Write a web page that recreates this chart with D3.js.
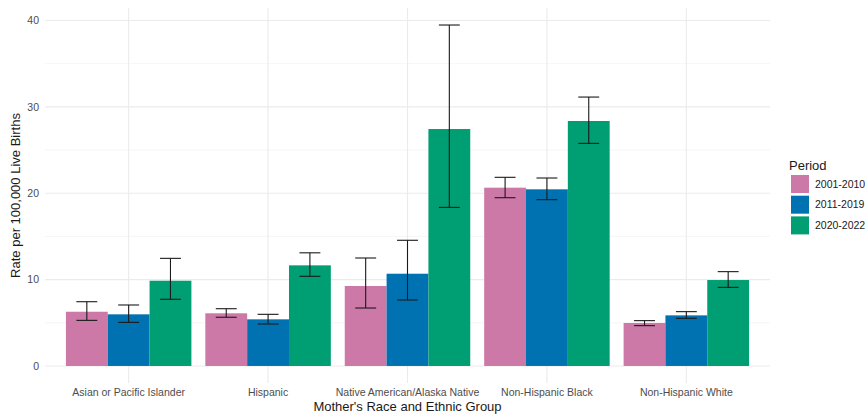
<!DOCTYPE html>
<html><head><meta charset="utf-8">
<script src="https://cdn.jsdelivr.net/npm/d3@7/dist/d3.min.js"></script>
<style>body{margin:0;background:#fff;font-family:"Liberation Sans",Arial,sans-serif}</style>
</head><body><svg id="c" width="867" height="414"></svg>
<script>
const categories = ["Asian or Pacific Islander","Hispanic","Native American/Alaska Native","Non-Hispanic Black","Non-Hispanic White"];
const periods = ["2001-2010","2011-2019","2020-2022"];
const colors = ["#CC79A7","#0072B2","#009E73"];
const rate2001 = [6.28, 6.10, 9.26, 20.64, 4.98];
const low2001  = [5.28, 5.64, 6.71, 19.48, 4.67];
const high2001 = [7.44, 6.63, 12.50, 21.84, 5.25];
const rate2011 = [5.98, 5.40, 10.68, 20.45, 5.86];
const low2011  = [5.05, 4.86, 7.64, 19.25, 5.52];
const high2011 = [7.06, 5.98, 14.55, 21.76, 6.29];
const rate2020 = [9.87, 11.65, 27.43, 28.36, 9.95];
const low2020  = [7.72, 10.38, 18.36, 25.77, 9.10];
const high2020 = [12.46, 13.10, 39.47, 31.13, 10.92];
const yTicks = [0,10,20,30,40];
const yMinor = [5,15,25,35];

const rates=[rate2001,rate2011,rate2020], lows=[low2001,low2011,low2020], highs=[high2001,high2011,high2020];
const data=[];
categories.forEach((c,i)=>periods.forEach((p,j)=>data.push({c,p,j,v:rates[j][i],lo:lows[j][i],hi:highs[j][i]})));

const svg=d3.select("#c");
const L=45,R=770,T=8,B=383;
const x=d3.scaleBand().domain(categories).range([L,R]).paddingOuter(0.1/1.0).paddingInner(0.1);
// ggplot discrete: centers at L + (0.6+i)*step, step=(R-L)/5.2
const step=(R-L)/5.2;
const cx=i=>L+(0.6+i)*step;
const groupW=0.9*step, barW=groupW/3;
const y=d3.scaleLinear().domain([-1.97,41.44]).range([B,T]);

const g=svg.append("g");
// grid
g.selectAll(".ym").data(yMinor).join("line").attr("x1",L).attr("x2",R).attr("y1",d=>y(d)).attr("y2",d=>y(d)).attr("stroke","#f0f0f0").attr("stroke-width",0.7);
g.selectAll(".yM").data(yTicks).join("line").attr("x1",L).attr("x2",R).attr("y1",d=>y(d)).attr("y2",d=>y(d)).attr("stroke","#ebebeb").attr("stroke-width",1.1);
g.selectAll(".xM").data(categories).join("line").attr("x1",(d,i)=>cx(i)).attr("x2",(d,i)=>cx(i)).attr("y1",T).attr("y2",B).attr("stroke","#ebebeb").attr("stroke-width",1.1);

// bars
const bx=d=>cx(categories.indexOf(d.c))-groupW/2+d.j*barW;
g.selectAll(".bar").data(data).join("rect")
 .attr("x",bx).attr("width",barW).attr("y",d=>y(d.v)).attr("height",d=>y(0)-y(d.v))
 .attr("fill",d=>colors[d.j]);
// error bars
const cap=barW*0.5;
const eb=g.selectAll(".eb").data(data).join("g").attr("stroke","#1a1a1a").attr("stroke-width",1.1);
eb.append("line").attr("x1",d=>bx(d)+barW/2).attr("x2",d=>bx(d)+barW/2).attr("y1",d=>y(d.lo)).attr("y2",d=>y(d.hi));
eb.append("line").attr("x1",d=>bx(d)+barW/2-cap/2).attr("x2",d=>bx(d)+barW/2+cap/2).attr("y1",d=>y(d.hi)).attr("y2",d=>y(d.hi));
eb.append("line").attr("x1",d=>bx(d)+barW/2-cap/2).attr("x2",d=>bx(d)+barW/2+cap/2).attr("y1",d=>y(d.lo)).attr("y2",d=>y(d.lo));

// y axis labels
g.selectAll(".yl").data(yTicks).join("text").attr("x",39).attr("y",d=>y(d)).attr("dy","0.35em").attr("text-anchor","end")
 .attr("font-size",10.5).attr("fill","#4d4d4d").text(d=>d);
// x labels
g.selectAll(".xl").data(categories).join("text").attr("x",(d,i)=>cx(i)).attr("y",396).attr("text-anchor","middle")
 .attr("font-size",10.5).attr("fill","#4d4d4d").text(d=>d);
// titles
svg.append("text").attr("x",L+(R-L)/2).attr("y",411).attr("text-anchor","middle").attr("font-size",13).attr("fill","#1a1a1a").text("Mother's Race and Ethnic Group");
svg.append("text").attr("transform",`translate(20,${(T+B)/2}) rotate(-90)`).attr("text-anchor","middle").attr("font-size",13).attr("fill","#1a1a1a").text("Rate per 100,000 Live Births");

// legend
const lg=svg.append("g");
lg.append("text").attr("x",789).attr("y",170).attr("font-size",13).attr("fill","#1a1a1a").text("Period");
periods.forEach((p,j)=>{
  lg.append("rect").attr("x",791).attr("y",175+j*20.7).attr("width",18).attr("height",18).attr("fill",colors[j]);
  lg.append("text").attr("x",815).attr("y",184+j*20.7).attr("dy","0.35em").attr("font-size",10.5).attr("fill","#1a1a1a").text(p);
});
</script></body></html>
